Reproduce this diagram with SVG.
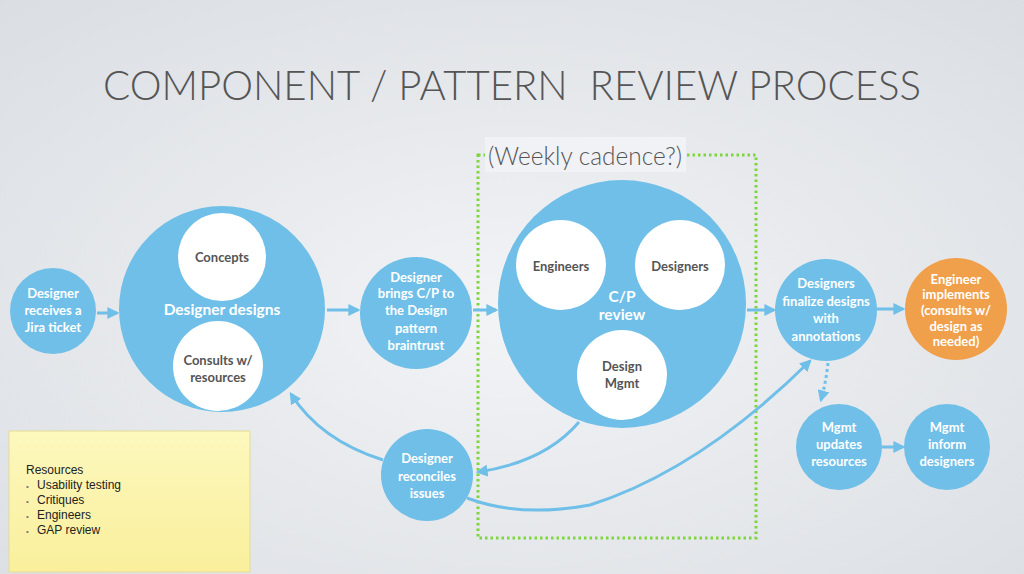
<svg xmlns="http://www.w3.org/2000/svg" width="1024" height="574" viewBox="0 0 1024 574">
<defs>
<radialGradient id="bg" cx="50%" cy="55%" r="75%">
<stop offset="0" stop-color="#f2f4f6"/>
<stop offset="1" stop-color="#dadde2"/>
</radialGradient>
<linearGradient id="note" x1="0" y1="0" x2="0" y2="1">
<stop offset="0" stop-color="#fdf8bd"/>
<stop offset="1" stop-color="#f9ef9c"/>
</linearGradient>
<marker id="ah" viewBox="0 0 10 10" refX="8" refY="5" markerWidth="4" markerHeight="4" orient="auto" markerUnits="strokeWidth">
<path d="M0,0 L10,5 L0,10 z" fill="#6fbfe8"/>
</marker>
<style>
.b{fill:#6fbfe8}
.w{fill:#ffffff}
.o{fill:#f0a04b}
.tw{font-family:Lato,"Open Sans","DejaVu Sans",sans-serif;font-weight:700;font-size:13px;fill:#ffffff;text-anchor:middle}
.tg{font-family:Lato,"Open Sans","DejaVu Sans",sans-serif;font-weight:700;font-size:13px;fill:#555555;text-anchor:middle}
.big{font-size:15.5px}
.c{fill:none;stroke:#6fbfe8;stroke-width:3;marker-end:url(#ah)}
.nt{font-family:"Liberation Sans",Arial,sans-serif;font-size:12px;fill:#222}
</style>
</defs>
<rect width="1024" height="574" fill="url(#bg)"/>
<text x="512" y="100" font-family="Lato,'Open Sans',sans-serif" font-weight="300" font-size="42" fill="#555" text-anchor="middle" textLength="818" lengthAdjust="spacingAndGlyphs" style="white-space:pre">COMPONENT / PATTERN  REVIEW PROCESS</text>

<g id="cadence-box">
<rect x="478" y="155" width="278" height="383" fill="none" stroke="#7ed63c" stroke-width="3" stroke-dasharray="2.5 3"/>
<rect x="485" y="137" width="201" height="35" fill="#f0f2f5"/>
<text x="585" y="165" font-family="Lato,'Open Sans',sans-serif" font-weight="300" font-size="26" fill="#555" text-anchor="middle" textLength="194" lengthAdjust="spacingAndGlyphs">(Weekly cadence?)</text>
</g>

<g id="connectors">
<path class="c" d="M97,313 L117,313"/>
<path class="c" d="M327,310 L358,310"/>
<path class="c" d="M473,310 L496,310"/>
<path class="c" d="M747,310 L774,310"/>
<path class="c" d="M877,309 L903,309"/>
<path class="c" d="M882,447 L903,447"/>
<path class="c" d="M828,363 Q826,382 821,400" stroke-dasharray="3 3"/>
<path class="c" d="M383,460 Q320,440 291,394"/>
<path class="c" d="M579,422 Q545,462 478,472"/>
<path class="c" d="M467,498 Q520,518 590,505 Q700,470 810,361"/>
</g>

<g id="n-ticket">
<circle class="b" cx="53" cy="311" r="43"/>
<text class="tw" x="53" y="298">Designer</text>
<text class="tw" x="53" y="315">receives a</text>
<text class="tw" x="53" y="332">Jira ticket</text>
</g>

<g id="n-designs">
<circle class="b" cx="222" cy="309" r="103"/>
<circle class="w" cx="222" cy="257" r="44"/>
<circle class="w" cx="218" cy="366" r="45"/>
<text class="tw big" x="222" y="315">Designer designs</text>
<text class="tg" x="222" y="262">Concepts</text>
<text class="tg" x="218" y="365">Consults w/</text>
<text class="tg" x="218" y="382">resources</text>
</g>

<g id="n-brings">
<circle class="b" cx="416" cy="313" r="56"/>
<text class="tw" x="416" y="282">Designer</text>
<text class="tw" x="416" y="298">brings C/P to</text>
<text class="tw" x="416" y="315">the Design</text>
<text class="tw" x="416" y="333">pattern</text>
<text class="tw" x="416" y="350">braintrust</text>
</g>

<g id="n-review">
<circle class="b" cx="622" cy="304" r="124"/>
<circle class="w" cx="561" cy="265" r="45"/>
<circle class="w" cx="680" cy="265" r="45"/>
<circle class="w" cx="622" cy="375" r="45"/>
<text class="tg" x="561" y="271">Engineers</text>
<text class="tg" x="680" y="271">Designers</text>
<text class="tw big" x="622" y="302">C/P</text>
<text class="tw big" x="622" y="320">review</text>
<text class="tg" x="622" y="371">Design</text>
<text class="tg" x="622" y="388">Mgmt</text>
</g>

<g id="n-finalize">
<circle class="b" cx="826" cy="310" r="51"/>
<text class="tw" x="826" y="288">Designers</text>
<text class="tw" x="826" y="306">finalize designs</text>
<text class="tw" x="826" y="323">with</text>
<text class="tw" x="826" y="341">annotations</text>
</g>

<g id="n-implements">
<circle class="o" cx="956" cy="309" r="51"/>
<text class="tw" x="956" y="284">Engineer</text>
<text class="tw" x="956" y="299">implements</text>
<text class="tw" x="956" y="315">(consults w/</text>
<text class="tw" x="956" y="331">design as</text>
<text class="tw" x="956" y="346">needed)</text>
</g>

<g id="n-updates">
<circle class="b" cx="839" cy="447" r="43"/>
<text class="tw" x="839" y="432">Mgmt</text>
<text class="tw" x="839" y="449">updates</text>
<text class="tw" x="839" y="466">resources</text>
</g>

<g id="n-inform">
<circle class="b" cx="947" cy="447" r="43"/>
<text class="tw" x="947" y="432">Mgmt</text>
<text class="tw" x="947" y="449">inform</text>
<text class="tw" x="947" y="466">designers</text>
</g>

<g id="n-reconciles">
<circle class="b" cx="427" cy="475" r="46"/>
<text class="tw" x="427" y="463">Designer</text>
<text class="tw" x="427" y="481">reconciles</text>
<text class="tw" x="427" y="498">issues</text>
</g>

<g id="n-resources">
<rect x="9" y="431" width="241" height="141" fill="url(#note)" stroke="#e3dc96" stroke-width="1"/>
<text class="nt" x="26" y="474">Resources</text>
<text class="nt" x="26" y="489"><tspan font-size="8" fill="#777">•</tspan><tspan x="37">Usability testing</tspan></text>
<text class="nt" x="26" y="504"><tspan font-size="8" fill="#777">•</tspan><tspan x="37">Critiques</tspan></text>
<text class="nt" x="26" y="519"><tspan font-size="8" fill="#777">•</tspan><tspan x="37">Engineers</tspan></text>
<text class="nt" x="26" y="534"><tspan font-size="8" fill="#777">•</tspan><tspan x="37">GAP review</tspan></text>
</g>
</svg>
